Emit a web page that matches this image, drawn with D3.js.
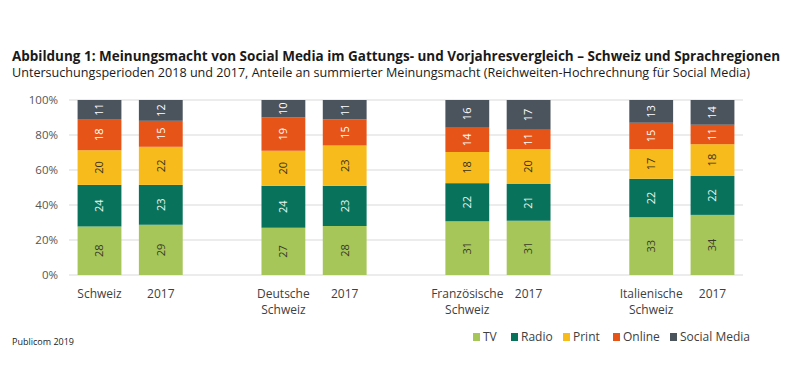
<!DOCTYPE html>
<html>
<head>
<meta charset="utf-8">
<script src="https://cdn.jsdelivr.net/npm/d3@7"></script>
<style>
  body { margin: 0; background: #fff; }
  text { font-family: "Open Sans", "Noto Sans", sans-serif; }
</style>
</head>
<body>
<div id="chart"></div>
<script>
// categories (blank slots separate the regions)
var categories = ['Schweiz', '2017 CH', 'gap1', 'Deutsche Schweiz', '2017 DS', 'gap2',
	'Französische Schweiz', '2017 FS', 'gap3', 'Italienische Schweiz', '2017 IS'];
var barCategories = ['Schweiz', '2017 CH', 'Deutsche Schweiz', '2017 DS',
	'Französische Schweiz', '2017 FS', 'Italienische Schweiz', '2017 IS'];
var categoryLabels = [['Schweiz'], ['2017'], ['Deutsche', 'Schweiz'], ['2017'],
	['Französische', 'Schweiz'], ['2017'], ['Italienische', 'Schweiz'], ['2017']];

var seriesNames = ['TV', 'Radio', 'Print', 'Online', 'Social Media'];
var tvValues = [28, 29, 27, 28, 31, 31, 33, 34];
var radioValues = [24, 23, 24, 23, 22, 21, 22, 22];
var printValues = [20, 22, 20, 23, 18, 20, 17, 18];
var onlineValues = [18, 15, 19, 15, 14, 11, 15, 11];
var socialValues = [11, 12, 10, 11, 16, 17, 13, 14];

var yTicks = [0, 0.2, 0.4, 0.6, 0.8, 1];

var colors = ['#a6c659', '#08735a', '#f8bb1c', '#e65418', '#4b545d'];
var labelColors = ['#3a3a2a', '#e8f6f2', '#3a3320', '#ffffff', '#ffffff'];

var width = 801, height = 367;
var margin = { top: 100, right: 58, bottom: 92, left: 69 };
var innerW = width - margin.left - margin.right;
var innerH = height - margin.top - margin.bottom;

var svg = d3.select('#chart').append('svg')
	.attr('width', width)
	.attr('height', height);

// titles
svg.append('text')
	.attr('x', 12).attr('y', 61)
	.attr('font-size', '13.5px').attr('font-weight', 'bold').attr('fill', '#1a1a1a')
	.attr('textLength', 768).attr('lengthAdjust', 'spacingAndGlyphs')
	.text('Abbildung 1: Meinungsmacht von Social Media im Gattungs- und Vorjahresvergleich – Schweiz und Sprachregionen');
svg.append('text')
	.attr('x', 12).attr('y', 77)
	.attr('font-size', '12.5px').attr('fill', '#1a1a1a')
	.attr('textLength', 738).attr('lengthAdjust', 'spacingAndGlyphs')
	.text('Untersuchungsperioden 2018 und 2017, Anteile an summierter Meinungsmacht (Reichweiten-Hochrechnung für Social Media)');

var g = svg.append('g').attr('transform', 'translate(' + margin.left + ',' + margin.top + ')');

var x = d3.scaleBand().domain(categories).range([0, innerW]).paddingInner(0.285).paddingOuter(0.14);
var y = d3.scaleLinear().domain([0, 1]).range([innerH, 0]);

// grid
g.append('g')
	.selectAll('line')
	.data(yTicks)
	.enter()
	.append('line')
	.attr('x1', 0).attr('x2', innerW)
	.attr('y1', (d) => y(d)).attr('y2', (d) => y(d))
	.attr('stroke', '#d9d9d9').attr('stroke-width', 1);

// y axis labels
g.append('g')
	.selectAll('text')
	.data(yTicks)
	.enter()
	.append('text')
	.attr('x', -11)
	.attr('y', (d) => y(d))
	.attr('dy', '0.35em')
	.attr('text-anchor', 'end')
	.attr('font-size', '11.5px')
	.attr('fill', '#555')
	.text((d) => d3.format('.0%')(d));

// stacked data
var rows = barCategories.map(function (c, i) {
	return {
		cat: c,
		'TV': tvValues[i],
		'Radio': radioValues[i],
		'Print': printValues[i],
		'Online': onlineValues[i],
		'Social Media': socialValues[i]
	};
});
var stack = d3.stack().keys(seriesNames).offset(d3.stackOffsetExpand);
var series = stack(rows);

var layers = g.selectAll('.layer')
	.data(series)
	.enter()
	.append('g')
	.attr('class', 'layer');

layers.selectAll('rect')
	.data((s) => s)
	.enter()
	.append('rect')
	.attr('x', (d) => x(d.data.cat))
	.attr('y', (d) => y(d[1]))
	.attr('width', x.bandwidth())
	.attr('height', (d) => y(d[0]) - y(d[1]))
	.attr('fill', function () { return colors[d3.select(this.parentNode).datum().index]; });

layers.each(function (s) {
	d3.select(this).selectAll('text')
		.data(s)
		.enter()
		.append('text')
		.attr('transform', function (d) {
			var cx = x(d.data.cat) + x.bandwidth() / 2;
			var cy = (y(d[0]) + y(d[1])) / 2;
			return 'translate(' + cx + ',' + cy + ')rotate(-90)';
		})
		.attr('text-anchor', 'middle')
		.attr('dy', '0.35em')
		.attr('font-size', '11px')
		.attr('fill', labelColors[s.index])
		.text((d) => d.data[s.key]);
});

// x labels
var xl = g.append('g')
	.selectAll('text')
	.data(barCategories)
	.enter()
	.append('text')
	.attr('x', (d) => x(d) + x.bandwidth() / 2)
	.attr('y', innerH + 23)
	.attr('text-anchor', 'middle')
	.attr('font-size', '12px')
	.attr('fill', '#404040');
xl.each(function (d, i) {
	var t = d3.select(this);
	categoryLabels[i].forEach(function (line, j) {
		t.append('tspan')
			.attr('x', x(d) + x.bandwidth() / 2)
			.attr('dy', j === 0 ? 0 : 15.5)
			.text(line);
	});
});

// source
svg.append('text')
	.attr('x', 12).attr('y', 345)
	.attr('font-size', '9px').attr('fill', '#1a1a1a')
	.text('Publicom 2019');

// legend
var legendX = [473, 511, 563, 613, 670];
var legend = svg.append('g')
	.selectAll('g')
	.data(seriesNames)
	.enter()
	.append('g')
	.attr('transform', (d, i) => 'translate(' + legendX[i] + ',337)');
legend.append('rect')
	.attr('x', 0).attr('y', -4)
	.attr('width', 7).attr('height', 8)
	.attr('fill', (d, i) => colors[i]);
legend.append('text')
	.attr('x', 10).attr('dy', '0.35em')
	.attr('font-size', '12px').attr('fill', '#404040')
	.text((d) => d);
</script>
</body>
</html>
